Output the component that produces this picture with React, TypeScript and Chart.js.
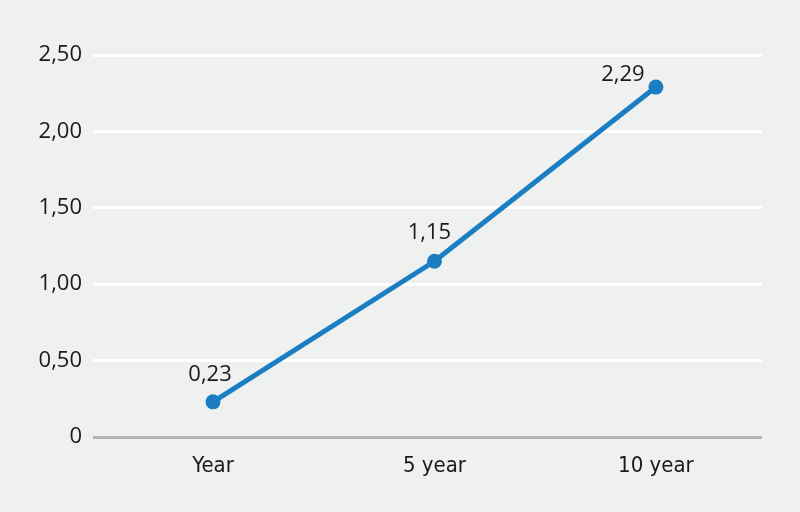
import React, { useEffect, useRef } from "react";
import { Chart, registerables } from "chart.js";

Chart.register(...registerables);

const categories = ["Year", "5 year", "10 year"];
const values = [0.23, 1.15, 2.29];
const valueLabels = ["0,23", "1,15", "2,29"];

const fmt = (v: number) => (v === 0 ? "0" : v.toFixed(2).replace(".", ","));

const labelPlugin = {
  id: "valueLabels",
  afterDatasetsDraw(chart: any) {
    const meta = chart.getDatasetMeta(0);
    const ctx = chart.ctx;
    ctx.save();
    ctx.font = "22px 'Open Sans'";
    ctx.fillStyle = "#1a1a1a";
    ctx.textAlign = "center";
    ctx.textBaseline = "middle";
    const offsets = [
      [-3, -27],
      [-5, -29],
      [-33, -12],
    ];
    meta.data.forEach((pt: any, i: number) => {
      ctx.fillText(valueLabels[i], pt.x + offsets[i][0], pt.y + offsets[i][1]);
    });
    ctx.restore();
  },
};

const bgPlugin = {
  id: "bg",
  beforeDraw(chart: any) {
    const ctx = chart.ctx;
    ctx.save();
    ctx.fillStyle = "#eff1f0";
    ctx.fillRect(0, 0, chart.width, chart.height);
    ctx.restore();
  },
};

export default function App() {
  const ref = useRef<HTMLCanvasElement>(null);
  useEffect(() => {
    if (!ref.current) return;
    const chart = new Chart(ref.current, {
      type: "line",
      data: {
        datasets: [
          {
            data: values.map((v, i) => ({ x: i, y: v })),
            borderColor: "#1b7ec2",
            backgroundColor: "#1b7ec2",
            borderWidth: 5,
            pointRadius: 7.5,
            pointHoverRadius: 7.5,
            pointBorderWidth: 0,
            tension: 0,
          },
        ],
      },
      options: {
        animation: false,
        responsive: false,
        layout: { padding: { left: 0, right: 38, top: 55, bottom: 0 } },
        plugins: { legend: { display: false }, tooltip: { enabled: false } },
        scales: {
          x: {
            type: "linear",
            min: -0.542,
            max: 2.479,
            afterBuildTicks: (scale: any) => {
              scale.ticks = categories.map((_, i) => ({ value: i }));
            },
            afterFit: (scale: any) => {
              scale.height = 75;
            },
            grid: { display: false },
            border: { display: false },
            ticks: {
              padding: 8,
              color: "#1a1a1a",
              font: { family: "'DejaVu Sans'", weight: "condensed", size: 22 },
              callback: (v: any) => categories[Math.round(Number(v))] ?? "",
            },
          },
          y: {
            min: 0,
            max: 2.5,
            afterFit: (scale: any) => {
              scale.width = 93;
            },
            border: { display: false },
            grid: {
              lineWidth: 3,
              tickLength: 0,
              color: (c: any) => (c.tick && c.tick.value === 0 ? "#b6b1b4" : "#ffffff"),
            },
            ticks: {
              stepSize: 0.5,
              padding: 11,
              color: "#1a1a1a",
              font: { family: "'Open Sans'", size: 22 },
              callback: (v: any) => fmt(Number(v)),
            },
          },
        },
      },
      plugins: [bgPlugin, labelPlugin],
    });
    return () => chart.destroy();
  }, []);
  return (
    <div style={{ position: "fixed", left: 0, top: 0, width: 800, height: 512 }}>
      <canvas ref={ref} width={800} height={512} />
    </div>
  );
}
